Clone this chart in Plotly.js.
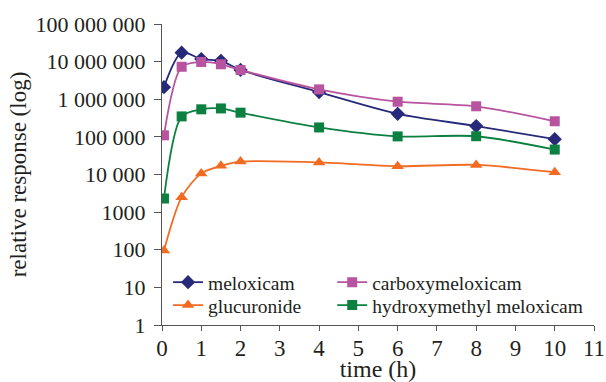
<!DOCTYPE html>
<html><head><meta charset="utf-8">
<script src="https://cdn.plot.ly/plotly-3.0.1.min.js"></script>
<style>html,body{margin:0;padding:0;background:#fff}#c{width:606px;height:382px}</style>
</head><body><div id="c"></div>
<script>
const time = [0.05, 0.5, 1, 1.5, 2, 4, 6, 8, 10];
const meloxicam = [2100000, 17300000, 11700000, 10500000, 6000000, 1550000, 410000, 194000, 87000];
const carboxymeloxicam = [110000, 7300000, 9800000, 8500000, 6000000, 1830000, 860000, 650000, 260000];
const glucuronide = [95, 2500, 10700, 17000, 22000, 21000, 16600, 18000, 11500];
const hydroxymethyl = [2300, 350000, 540000, 570000, 440000, 178000, 103000, 104000, 46000];
const yTickVals = [1, 10, 100, 1000, 10000, 100000, 1000000, 10000000, 100000000];
const yTickText = ['1', '10', '100', '1000', '10 000', '100 000', '1 000 000', '10 000 000', '100 000 000'];
const xTickVals = [0,1,2,3,4,5,6,7,8,9,10,11];

function tr(name, y, color, symbol, size, leg){
  return {x: time, y: y, name: name, type: 'scatter', mode: 'lines+markers', legend: leg,
    line: {color: color, width: 1.8, shape: 'spline', smoothing: 0.8},
    marker: {color: color, symbol: symbol, size: size}};
}
const data = [
  tr('meloxicam', meloxicam, '#27297a', 'diamond', 11, 'legend'),
  tr('carboxymeloxicam', carboxymeloxicam, '#b8539f', 'square', 10, 'legend2'),
  tr('glucuronide', glucuronide, '#f26b22', 'triangle-up', 11, 'legend3'),
  tr('hydroxymethyl meloxicam', hydroxymethyl, '#0c8040', 'square', 10, 'legend4')
];
const serif = 'Liberation Serif, Times New Roman, serif';
const legFont = {family: serif, size: 19.5, color: '#231f20'};
const legBase = {orientation: 'v', xanchor: 'left', yanchor: 'top',
  font: legFont, bgcolor: 'rgba(0,0,0,0)', itemwidth: 30};
const layout = {
  width: 606, height: 382,
  margin: {l: 162, r: 12, t: 24, b: 57},
  paper_bgcolor: '#fff', plot_bgcolor: '#fff',
  showlegend: true,
  legend: Object.assign({}, legBase, {x: 0.014, y: 0.206}),
  legend2: Object.assign({}, legBase, {x: 0.394, y: 0.206}),
  legend3: Object.assign({}, legBase, {x: 0.014, y: 0.13}),
  legend4: Object.assign({}, legBase, {x: 0.394, y: 0.13}),
  xaxis: {range: [0, 11], tickvals: xTickVals, ticks: 'outside', ticklen: 5, tickcolor: '#555',
    showline: true, linecolor: '#555', linewidth: 1.2, showgrid: false, zeroline: false,
    ticklabelstandoff: -3,
    tickfont: {family: serif, size: 23, color: '#231f20'},
    title: {text: 'time (h)', font: {family: serif, size: 24, color: '#231f20'}, standoff: 10}},
  yaxis: {type: 'log', range: [0, 8], tickvals: yTickVals, ticktext: yTickText, ticks: 'outside',
    ticklen: 7, tickcolor: '#555', showline: true, linecolor: '#555', linewidth: 1.2,
    showgrid: false, zeroline: false, ticklabelstandoff: 4,
    tickfont: {family: serif, size: 22, color: '#231f20'},
    title: {text: 'relative response (log)', font: {family: serif, size: 23, color: '#231f20'}, standoff: 2}}
};
Plotly.newPlot('c', data, layout, {displayModeBar: false, staticPlot: true});
</script></body></html>
